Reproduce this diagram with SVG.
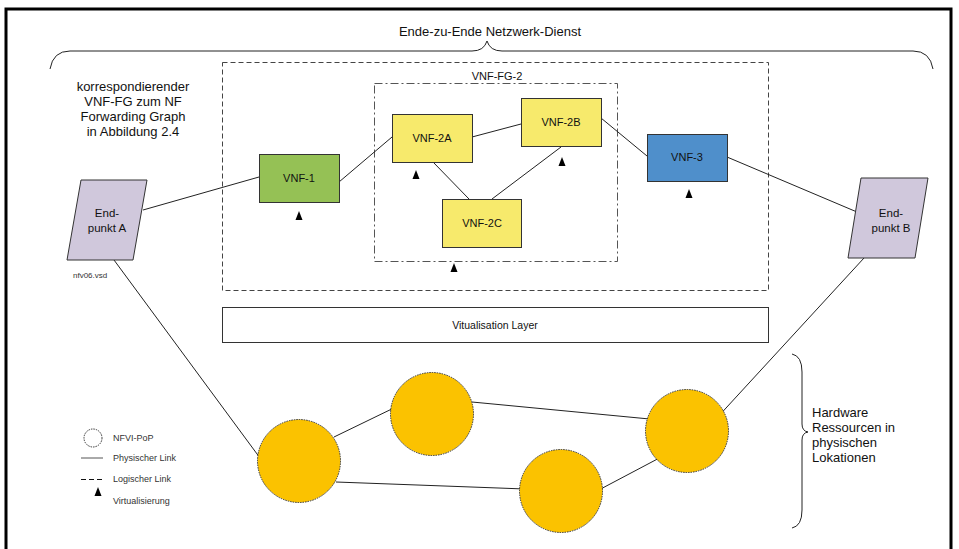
<svg xmlns="http://www.w3.org/2000/svg" width="959" height="549" viewBox="0 0 959 549">
<style>
text{font-family:"Liberation Sans",Arial,sans-serif;fill:#111}
.lbl{font-size:11px;text-anchor:middle}
.big{font-size:13px}
.ep{font-size:11.5px;text-anchor:middle}
.leg{font-size:9px;fill:#333}
.box{stroke:#333;stroke-width:1}
.ln{stroke:#222;stroke-width:1;fill:none}
.tri{fill:#000}
.pop{fill:#FBC200;stroke:#333;stroke-width:1;stroke-dasharray:1.5 1}
</style>
<defs>
<path id="tri" d="M0,-5 L3.5,4 L-3.5,4 Z"/>
</defs>
<rect width="959" height="549" fill="#fff"/>
<path d="M6,549 V9 H951 V549" fill="none" stroke="#000" stroke-width="3"/>

<g id="brace-top">
<path class="ln" d="M50,69 Q53,51 70,51 H472 Q484,51 487,41 Q490,51 502,51 H913 Q930,51 933,69" stroke="#444"/>
<text x="490" y="36" class="big" text-anchor="middle">Ende-zu-Ende Netzwerk-Dienst</text>
</g>

<g id="ns-box">
<rect x="222.5" y="62.5" width="546" height="228" fill="none" stroke="#444" stroke-dasharray="5 3"/>
</g>
<g id="vnffg2">
<rect x="374.5" y="83.5" width="243" height="178" fill="none" stroke="#555" stroke-dasharray="8 3 2 3"/>
<text x="497" y="80" class="lbl">VNF-FG-2</text>
<use href="#tri" x="454" y="268" class="tri"/>
</g>

<g id="connectors">
<line class="ln" x1="143" y1="210" x2="259" y2="177"/>
<line class="ln" x1="339" y1="182" x2="392" y2="137"/>
<line class="ln" x1="472" y1="137" x2="521" y2="124"/>
<line class="ln" x1="433" y1="162" x2="469" y2="199"/>
<line class="ln" x1="561" y1="147" x2="492" y2="199"/>
<line class="ln" x1="601" y1="118" x2="647" y2="156"/>
<line class="ln" x1="727" y1="157" x2="857" y2="212"/>
<line class="ln" x1="114" y1="260" x2="260" y2="458"/>
<line class="ln" x1="864" y1="258" x2="715" y2="420"/>
<line class="ln" x1="334" y1="437" x2="400" y2="405"/>
<line class="ln" x1="472" y1="402" x2="660" y2="420"/>
<line class="ln" x1="336" y1="482" x2="525" y2="489"/>
<line class="ln" x1="595" y1="492" x2="665" y2="455"/>
</g>

<g id="text-korr">
<text x="133" y="91" class="big" text-anchor="middle">korrespondierender</text>
<text x="133" y="106" class="big" text-anchor="middle">VNF-FG zum NF</text>
<text x="133" y="121" class="big" text-anchor="middle">Forwarding Graph</text>
<text x="133" y="136" class="big" text-anchor="middle">in Abbildung 2.4</text>
</g>

<g id="endpunkt-a">
<path d="M81,180 H147 L133,260 H67 Z" fill="#D0C8DC" stroke="#333"/>
<text x="107" y="217" class="ep">End-</text>
<text x="107" y="232" class="ep">punkt A</text>
<text x="73" y="278" class="leg" style="font-size:8px">nfv06.vsd</text>
</g>

<g id="endpunkt-b">
<path d="M861,178 H928 L915,258 H848 Z" fill="#D0C8DC" stroke="#333"/>
<text x="891" y="217" class="ep">End-</text>
<text x="891" y="232" class="ep">punkt B</text>
</g>

<g id="vnf-1">
<rect x="259.5" y="154.5" width="80" height="48" fill="#95C155" class="box"/>
<text x="299" y="182" class="lbl">VNF-1</text>
<use href="#tri" x="299" y="216" class="tri"/>
</g>
<g id="vnf-2a">
<rect x="392.5" y="114.5" width="80" height="48" fill="#F7EA6C" class="box"/>
<text x="432" y="142" class="lbl">VNF-2A</text>
<use href="#tri" x="416" y="175" class="tri"/>
</g>
<g id="vnf-2b">
<rect x="521.5" y="98.5" width="80" height="48" fill="#F7EA6C" class="box"/>
<text x="561" y="126" class="lbl">VNF-2B</text>
<use href="#tri" x="562" y="162" class="tri"/>
</g>
<g id="vnf-2c">
<rect x="442.5" y="199.5" width="79" height="48" fill="#F7EA6C" class="box"/>
<text x="482" y="227" class="lbl">VNF-2C</text>
</g>
<g id="vnf-3">
<rect x="647.5" y="134.5" width="80" height="47" fill="#4F8FCB" class="box"/>
<text x="687" y="161" class="lbl">VNF-3</text>
<use href="#tri" x="689" y="194" class="tri"/>
</g>

<g id="virt-layer">
<rect x="222.5" y="307.5" width="546" height="35" fill="#fff" stroke="#333"/>
<text x="495" y="329" class="lbl" style="font-size:10.5px">Vitualisation Layer</text>
</g>

<g id="pop-1"><circle cx="299" cy="461" r="41.5" class="pop"/></g>
<g id="pop-2"><circle cx="432" cy="414" r="41.5" class="pop"/></g>
<g id="pop-3"><circle cx="561" cy="491" r="41.5" class="pop"/></g>
<g id="pop-4"><circle cx="687" cy="431" r="41.5" class="pop"/></g>

<g id="brace-right">
<path class="ln" stroke="#444" d="M792,354 Q802,356 802,372 V424 Q802,431 808,432 Q802,433 802,440 V510 Q802,526 792,528"/>
<text x="812" y="417" class="big">Hardware</text>
<text x="812" y="432" class="big">Ressourcen in</text>
<text x="812" y="447" class="big">physischen</text>
<text x="812" y="462" class="big">Lokationen</text>
</g>

<g id="legend">
<circle cx="93" cy="438" r="9" fill="none" stroke="#333" stroke-dasharray="1.5 1"/>
<text x="113" y="441" class="leg">NFVI-PoP</text>
<line x1="81" y1="458" x2="103" y2="458" stroke="#555"/>
<text x="113" y="461" class="leg">Physischer Link</text>
<line x1="81" y1="479.5" x2="103" y2="479.5" stroke="#111" stroke-dasharray="5 3"/>
<text x="113" y="482" class="leg">Logischer Link</text>
<use href="#tri" x="98" y="492" class="tri"/>
<text x="113" y="504" class="leg">Virtualisierung</text>
</g>
</svg>
